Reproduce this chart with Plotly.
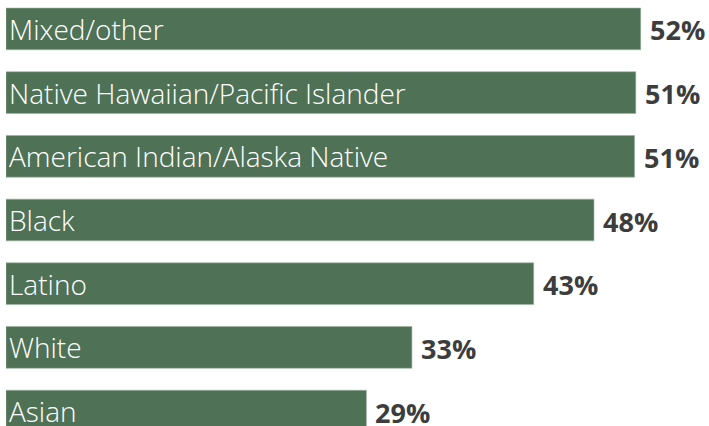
import plotly.graph_objects as go

categories = ["Mixed/other", "Native Hawaiian/Pacific Islander", "American Indian/Alaska Native",
              "Black", "Latino", "White", "Asian"]
values = [51.6, 51.2, 51.1, 47.8, 42.9, 33.0, 29.3]
value_labels = ["52%", "51%", "51%", "48%", "43%", "33%", "29%"]

bar_color = "#4f7156"
label_color = "#3d3d3d"

fig = go.Figure()
fig.add_trace(go.Bar(
    x=values, y=categories, orientation="h",
    marker=dict(color=bar_color, line=dict(color="#9fb5a3", width=0.6)),
    text=categories, textposition="inside", insidetextanchor="start",
    textfont=dict(family="Open Sans", size=28, color="white", weight=300),
    constraintext="none", cliponaxis=False, hoverinfo="skip",
))

for c, v, t in zip(categories, values, value_labels):
    fig.add_annotation(x=v, y=c, text=t, showarrow=False, xanchor="left", yanchor="middle",
                       xshift=7, yshift=-1,
                       font=dict(family="Open Sans", size=27, color=label_color, weight=700))

fig.update_layout(
    width=709, height=426,
    margin=dict(l=6, r=0, t=0, b=0),
    paper_bgcolor="white", plot_bgcolor="white",
    bargap=0.345, showlegend=False,
    xaxis=dict(range=[0, 57.15], visible=False, fixedrange=True),
    yaxis=dict(categoryorder="array", categoryarray=categories,
               range=[6.234, -0.4537], visible=False, fixedrange=True),
)

fig.write_html("out.html", config={"displayModeBar": False},
               post_script="document.body.style.margin='0';document.body.style.overflow='hidden';")
